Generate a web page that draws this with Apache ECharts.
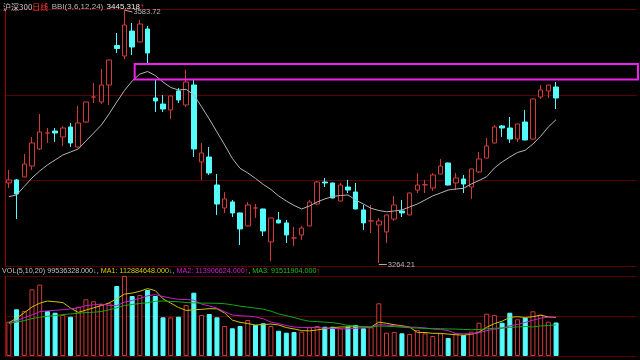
<!DOCTYPE html>
<html><head><meta charset="utf-8">
<script src="https://cdn.jsdelivr.net/npm/echarts@6/dist/echarts.min.js"></script>
<style>html,body{margin:0;padding:0;background:#000;}#c{width:640px;height:360px;}</style>
</head><body><div id="c"></div>
<script>
// ---- data ----
const days = Array.from({length: 72}, (_, i) => 'D' + (i + 1));
const open = [3365.3,3369.1,3372.9,3386.7,3408.2,3428.5,3430.9,3423.4,3436.0,3410.7,
3442.3,3473.9,3467.6,3489.0,3538.9,3525.7,3557.2,3543.4,3559.8,3472.6,
3465.0,3457.5,3481.5,3463.8,3489.0,3391.8,3398.1,3362.7,3333.7,3341.3,
3327.4,3311.0,3333.7,3332.4,3290.8,3318.5,3314.8,3295.8,3299.6,3311.0,
3338.7,3366.5,3365.3,3342.5,3360.2,3353.9,3331.2,3317.3,3312.2,3303.4,
3319.8,3329.9,3324.9,3356.4,3363.0,3359.0,3376.6,3390.5,3365.3,3370.3,
3360.2,3379.2,3396.8,3415.8,3437.3,3434.7,3420.8,3442.3,3420.8,3473.9,
3481.5,3486.5];
const close = [3369.1,3351.4,3389.2,3415.8,3429.7,3428.5,3428.4,3434.7,3415.8,3441.1,
3467.6,3473.9,3489.0,3520.6,3535.1,3564.8,3537.0,3566.1,3529.5,3468.8,
3458.7,3475.2,3470.1,3492.8,3408.2,3403.2,3377.9,3338.7,3345.1,3327.4,
3307.2,3337.5,3333.7,3304.6,3321.1,3314.8,3299.6,3295.8,3308.4,3341.3,
3366.5,3365.3,3346.3,3362.7,3356.4,3332.4,3314.8,3317.3,3317.3,3324.9,
3337.5,3327.4,3352.6,3362.7,3363.0,3375.4,3386.7,3362.7,3371.6,3364.0,
3383.0,3395.6,3412.0,3436.0,3434.7,3420.8,3439.8,3419.6,3471.4,3482.7,
3489.0,3472.6];
const low = [3359.0,3319.8,3372.5,3381.7,3406.9,3415.8,3417.1,3412.0,3410.7,3410.0,
3441.5,3466.3,3465.0,3463.8,3529.5,3521.9,3526.9,3542.5,3516.8,3454.9,
3454.9,3446.1,3466.3,3461.3,3398.1,3369.1,3375.4,3324.9,3327.4,3322.3,
3287.0,3310.5,3321.1,3298.3,3266.5,3314.2,3289.5,3285.7,3293.3,3310.5,
3337.5,3360.2,3345.8,3342.0,3352.6,3332.0,3305.9,3302.1,3264.21,3289.5,
3317.3,3322.3,3324.5,3352.6,3352.6,3355.2,3376.2,3362.2,3356.4,3352.6,
3345.1,3377.9,3396.4,3415.4,3423.4,3415.8,3417.1,3419.2,3420.4,3471.4,
3472.6,3458.7];
const high = [3381.7,3370.4,3401.9,3423.4,3452.4,3434.7,3434.7,3437.3,3441.1,3462.5,
3468.0,3491.6,3509.3,3521.0,3554.7,3583.72,3567.4,3571.1,3563.6,3495.4,
3476.4,3475.6,3485.3,3508.0,3495.4,3415.8,3410.7,3376.6,3353.9,3343.8,
3327.8,3341.3,3338.7,3332.8,3321.5,3328.6,3318.5,3309.7,3311.0,3343.8,
3367.8,3371.6,3365.8,3365.3,3369.1,3365.3,3337.5,3337.5,3321.1,3325.3,
3348.9,3343.8,3353.0,3377.9,3369.1,3377.9,3395.6,3391.0,3377.9,3375.4,
3383.4,3404.4,3422.1,3438.5,3438.5,3448.6,3440.2,3457.5,3471.8,3489.0,
3489.4,3492.8];
const bbi = [3348.0,3350.1,3360.9,3371.6,3380.4,3388.0,3394.3,3400.6,3404.4,3408.2,
3418.3,3428.4,3438.5,3452.4,3467.6,3482.1,3494.1,3502.9,3506.1,3501.0,
3492.8,3485.9,3482.7,3483.6,3476.4,3461.6,3446.1,3429.7,3413.3,3396.2,
3383.8,3377.9,3371.0,3363.4,3357.1,3348.9,3342.5,3336.9,3332.4,3336.2,
3341.3,3345.1,3348.2,3349.5,3350.1,3343.8,3338.7,3333.3,3330.5,3328.9,
3329.9,3331.2,3335.0,3338.7,3343.8,3348.9,3352.6,3356.4,3357.7,3358.5,
3364.0,3368.4,3373.2,3384.2,3391.8,3398.1,3403.8,3406.6,3414.5,3424.3,
3436.0,3445.318];
// volume, millions of shares
const volume = [101.9,138.7,133.7,198.1,211.8,133.7,128.6,121.8,116.7,146.4,
168.4,162.5,154.4,156.5,207.9,237.6,178.2,181.2,196.0,178.2,
114.9,114.9,116.7,151.5,188.0,121.8,124.7,114.9,89.1,82.3,
89.1,106.9,92.1,97.1,89.1,75.1,69.2,71.3,72.2,85.2,
89.1,87.0,87.0,82.3,87.0,92.1,82.3,85.2,156.5,69.2,
71.3,67.4,65.3,77.2,67.4,59.4,67.4,53.5,67.4,62.4,
72.2,98.9,125.6,121.8,98.9,128.6,109.0,113.8,132.8,122.7,
101.9,99.536328];
// leading values of the volume averages (their windows start before the chart)
const volMa5Head = [98.9,112.0,128.6,145.5];
const volMa10Head = [97.0,104.8,113.8,121.8,131.6,133.7,135.7,137.5,139.6];
const volMa20Head = [97,101,105,111,115,118,120,123,125,127,129,130,132,137,143,150,153,156,158];
const volMaLegend = [112884648, 113906624, 91511904];
const boxPrices = [3515.6, 3496.0];

// ---- build ----
const chart = echarts.init(document.getElementById('c'));
const N = days.length;
const xCats = days.concat(Array(10).fill(''));
const UP = '#d23a3a', DOWN = '#54fcfc';
const kData = open.map((o, i) => [o, close[i], low[i], high[i]]);
// rising day: close above open; flat day: compared with the previous close
const isUp = i => close[i] > open[i] || (close[i] === open[i] && (i === 0 || close[i] >= close[i - 1]));
const volData = volume.map((v, i) => ({
  value: v,
  itemStyle: isUp(i) ? {color: '#000', borderColor: UP, borderWidth: 1}
                     : {color: DOWN, borderColor: DOWN, borderWidth: 1}
}));
function ma(arr, n, head) {
  return arr.map((v, i) => {
    if (i < n - 1) return head[i];
    let s = 0; for (let k = i - n + 1; k <= i; k++) s += arr[k];
    return +(s / n).toFixed(2);
  });
}
const hiddenX = g => ({type: 'category', gridIndex: g, data: xCats, boundaryGap: true,
  axisLine: {show: false}, axisTick: {show: false}, axisLabel: {show: false}, splitLine: {show: false}});
const noLab = {axisLabel: {show: false}, axisTick: {show: false}};
const GRIDC = '#5a0000';

chart.setOption({
  animation: false,
  backgroundColor: '#000',
  grid: [
    {left: 5, right: 3, top: 9.5, height: 256.5},
    {left: 5, right: 3, top: 276, height: 80}
  ],
  xAxis: [hiddenX(0), hiddenX(1)],
  yAxis: [
    Object.assign({gridIndex: 0, type: 'value', min: 3260.4, max: 3584.4, splitLine: {show: false},
      axisLine: {show: true, lineStyle: {color: '#a00000'}}}, noLab),
    Object.assign({gridIndex: 0, type: 'value', min: 0, max: 3, interval: 1, position: 'left',
      axisLine: {show: false}, splitLine: {show: true, lineStyle: {color: GRIDC}}}, noLab),
    Object.assign({gridIndex: 1, type: 'value', min: 0, max: 237.6, splitLine: {show: false},
      axisLine: {show: true, lineStyle: {color: '#a00000'}}}, noLab),
    Object.assign({gridIndex: 1, type: 'value', min: 0, max: 2, interval: 1, position: 'left',
      axisLine: {show: false}, splitLine: {show: true, lineStyle: {color: GRIDC}}}, noLab)
  ],
  series: [
    {type: 'candlestick', xAxisIndex: 0, yAxisIndex: 0, data: kData, barWidth: 5,
      itemStyle: {color: '#000', color0: DOWN, borderColor: UP, borderColor0: DOWN,
        borderColorDoji: UP, borderWidth: 1}},
    {type: 'line', xAxisIndex: 0, yAxisIndex: 0, data: bbi, symbol: 'none',
      lineStyle: {color: '#b4b4b4', width: 1}},
    {type: 'bar', xAxisIndex: 1, yAxisIndex: 2, data: volData, barWidth: 5},
    {type: 'line', xAxisIndex: 1, yAxisIndex: 2, data: ma(volume, 5, volMa5Head), symbol: 'none',
      lineStyle: {color: '#cfc400', width: 1}},
    {type: 'line', xAxisIndex: 1, yAxisIndex: 2, data: ma(volume, 10, volMa10Head), symbol: 'none',
      lineStyle: {color: '#c81ec8', width: 1}},
    {type: 'line', xAxisIndex: 1, yAxisIndex: 2, data: ma(volume, 20, volMa20Head), symbol: 'none',
      lineStyle: {color: '#12a812', width: 1}}
  ]
});

// ---- annotations placed from data ----
const px = (i, p) => chart.convertToPixel({gridIndex: 0}, [i, p]);
let hi = 0, lo = 0;
high.forEach((v, i) => { if (v > high[hi]) hi = i; });
low.forEach((v, i) => { if (v < low[lo]) lo = i; });
const pH = px(hi, high[hi]), pL = px(lo, low[lo]);
const b1 = px(16, boxPrices[0]), b2 = px(16, boxPrices[1]);
const W = chart.getWidth();
const SANS = 'Liberation Sans, Arial, sans-serif';
const CJK = 'Noto Sans CJK SC, sans-serif';
const fmt = v => (v).toFixed(3);
const arrowDn = '↓', arrowUp = '↑';
chart.setOption({
  graphic: [
    {type: 'rect', shape: {x: b1[0] + 2.5, y: b1[1], width: W - 2 - (b1[0] + 2.5), height: b2[1] - b1[1]},
      style: {fill: 'none', stroke: '#f020f0', lineWidth: 2}, z: 10},
    {type: 'polyline', shape: {points: [[pH[0], pH[1]], [pH[0] + 8, pH[1] + 2]]},
      style: {stroke: '#b0b0b0', lineWidth: 1}, z: 10},
    {type: 'text', x: pH[0] + 9, y: pH[1] + 2, z: 10,
      style: {text: high[hi].toFixed(2), fill: '#b8b8b8', font: '7.5px ' + SANS, verticalAlign: 'middle'}},
    {type: 'polyline', shape: {points: [[pL[0], pL[1] + 1.5], [pL[0] + 8, pL[1] + 1.5]]},
      style: {stroke: '#b0b0b0', lineWidth: 1}, z: 10},
    {type: 'text', x: pL[0] + 9, y: pL[1] + 1.5, z: 10,
      style: {text: low[lo].toFixed(2), fill: '#b8b8b8', font: '7.5px ' + SANS, verticalAlign: 'middle'}},
    {type: 'text', x: 3, y: 1, z: 10, style: {
      text: '{a|沪深300}{b|日线} {c|BBI(3,6,12,24)} {d|' + fmt(bbi[N - 1]) + '}{e|' + arrowUp + '}',
      rich: {
        a: {fill: '#c8c8c8', font: '8px ' + CJK},
        b: {fill: '#ff3c3c', font: '8px ' + CJK},
        c: {fill: '#b8b8b8', font: '8px ' + SANS},
        d: {fill: '#e8e8e8', font: '8px ' + SANS},
        e: {fill: '#ff3030', font: '8px ' + SANS}
      }}},
    {type: 'text', x: 2, y: 268, z: 10, style: {
      text: '{w|VOL(5,10,20) ' + fmt(volume[N - 1] * 1e6) + '}{g|' + arrowDn + '}{w|, }' +
            '{y|MA1: ' + fmt(volMaLegend[0]) + '}{g|' + arrowDn + '}{w|, }' +
            '{m|MA2: ' + fmt(volMaLegend[1]) + '}{r|' + arrowUp + '}{w|, }' +
            '{n|MA3: ' + fmt(volMaLegend[2]) + '}{r|' + arrowUp + '}',
      rich: {
        w: {fill: '#c0c0c0', font: '7.2px ' + SANS},
        g: {fill: '#20e080', font: '7.2px ' + SANS},
        r: {fill: '#ff3030', font: '7.2px ' + SANS},
        y: {fill: '#d8cc00', font: '7.2px ' + SANS},
        m: {fill: '#d020d0', font: '7.2px ' + SANS},
        n: {fill: '#20c020', font: '7.2px ' + SANS}
      }}}
  ]
});
</script></body></html>
